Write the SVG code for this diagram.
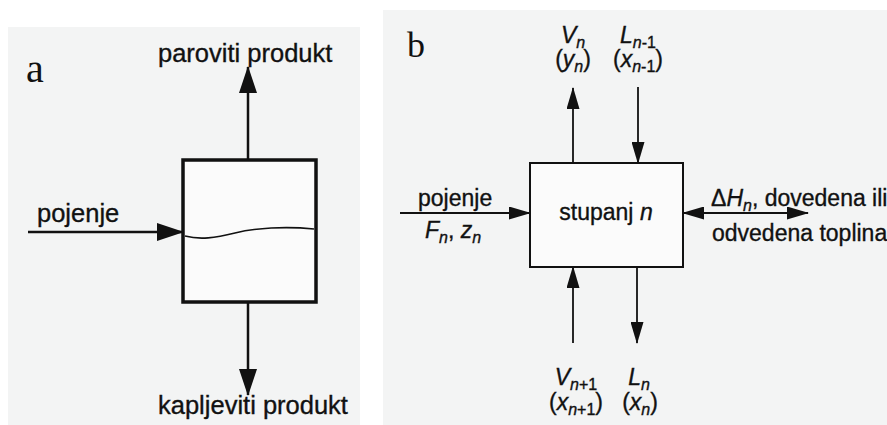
<svg xmlns="http://www.w3.org/2000/svg" width="887" height="425" viewBox="0 0 887 425">
  <style>
    .bg { fill: #f3f4f4; }
    .lbl { font-family: "Liberation Sans", Arial, sans-serif; fill: #111; stroke: #111; stroke-width: 0.35; }
    .l1 { font-size: 25.5px; }
    .l2 { font-size: 23px; }
    .sub { font-size: 16px; }
    .it { font-style: italic; }
    .tag { font-family: "Liberation Serif", "Times New Roman", serif; fill: #111; }
    .box1 { fill: #fbfbfb; stroke: #111; stroke-width: 3.5; }
    .box2 { fill: #fbfbfb; stroke: #111; stroke-width: 2; }
    .c1 { fill: none; stroke: #111; stroke-width: 2.5; }
    .c2 { fill: none; stroke: #111; stroke-width: 1.8; }
    .wave { fill: none; stroke: #111; stroke-width: 1.6; }
  </style>
  <defs>
    <marker id="ahBig" markerUnits="userSpaceOnUse" markerWidth="27" markerHeight="18" viewBox="0 0 27 18" refX="26" refY="9" orient="auto">
      <path d="M0,0 L27,9 L0,18 Z" fill="#111"/>
    </marker>
    <marker id="ahSmall" markerUnits="userSpaceOnUse" markerWidth="22" markerHeight="13" viewBox="0 0 22 13" refX="21" refY="6.5" orient="auto-start-reverse">
      <path d="M0,0 L22,6.5 L0,13 Z" fill="#111"/>
    </marker>
  </defs>

  <rect x="0" y="0" width="887" height="425" fill="#ffffff"/>
  <rect class="bg" x="8" y="27" width="352" height="398"/>
  <rect class="bg" x="383" y="10" width="504" height="415"/>

  <!-- Panel a -->
  <text id="tag-a" class="tag" x="26" y="82" font-size="40">a</text>

  <g id="connectors-a">
    <line class="c1" x1="248" y1="160" x2="248" y2="67" marker-end="url(#ahBig)"/>
    <line class="c1" x1="28" y1="232" x2="183" y2="232" marker-end="url(#ahBig)"/>
    <line class="c1" x1="248" y1="302" x2="248" y2="395" marker-end="url(#ahBig)"/>
  </g>

  <g id="node-vessel">
    <rect class="box1" x="183" y="160" width="133" height="142"/>
    <path class="wave" d="M185,236 C200,240 215,238 235,233 C255,228 285,226 314,229"/>
  </g>

  <g id="label-paroviti">
    <text class="lbl l1" x="158" y="62">paroviti produkt</text>
  </g>
  <g id="label-pojenje-a">
    <text class="lbl l1" x="37" y="222">pojenje</text>
  </g>
  <g id="label-kapljeviti">
    <text class="lbl l1" x="158" y="414">kapljeviti produkt</text>
  </g>

  <!-- Panel b -->
  <text id="tag-b" class="tag" x="407" y="57" font-size="36">b</text>

  <g id="connectors-b">
    <line class="c2" x1="573" y1="163" x2="573" y2="88" marker-end="url(#ahSmall)"/>
    <line class="c2" x1="638" y1="87" x2="638" y2="163" marker-end="url(#ahSmall)"/>
    <line class="c2" x1="400" y1="213" x2="530" y2="213" marker-end="url(#ahSmall)"/>
    <line class="c2" x1="683" y1="213" x2="808" y2="213" marker-start="url(#ahSmall)" marker-end="url(#ahSmall)"/>
    <line class="c2" x1="573" y1="343" x2="573" y2="267" marker-end="url(#ahSmall)"/>
    <line class="c2" x1="637" y1="267" x2="637" y2="343" marker-end="url(#ahSmall)"/>
  </g>

  <g id="node-stage">
    <rect class="box2" x="530" y="163" width="153" height="104"/>
    <text class="lbl l2" x="606" y="220" text-anchor="middle">stupanj <tspan class="it">n</tspan></text>
  </g>

  <g id="label-Vn">
    <text class="lbl l2" x="573" y="43" text-anchor="middle"><tspan class="it">V</tspan><tspan class="sub it" dy="5">n</tspan></text>
    <text class="lbl l2" x="573" y="67" text-anchor="middle">(<tspan class="it">y</tspan><tspan class="sub it" dy="5">n</tspan><tspan dy="-5">)</tspan></text>
  </g>
  <g id="label-Ln-1">
    <text class="lbl l2" x="638" y="43" text-anchor="middle"><tspan class="it">L</tspan><tspan class="sub it" dy="5">n</tspan><tspan class="sub">-1</tspan></text>
    <text class="lbl l2" x="638" y="67" text-anchor="middle">(<tspan class="it">x</tspan><tspan class="sub it" dy="5">n</tspan><tspan class="sub">-1</tspan><tspan dy="-5">)</tspan></text>
  </g>
  <g id="label-feed-b">
    <text class="lbl l2" x="418" y="206">pojenje</text>
    <text class="lbl l2" x="425" y="238"><tspan class="it">F</tspan><tspan class="sub it" dy="5">n</tspan><tspan dy="-5">, </tspan><tspan class="it">z</tspan><tspan class="sub it" dy="5">n</tspan></text>
  </g>
  <g id="label-heat">
    <text class="lbl l2" x="711" y="206">Δ<tspan class="it">H</tspan><tspan class="sub it" dy="5">n</tspan><tspan dy="-5">, dovedena ili</tspan></text>
    <text class="lbl l2" x="712" y="241">odvedena toplina</text>
  </g>
  <g id="label-Vn+1">
    <text class="lbl l2" x="576" y="385" text-anchor="middle"><tspan class="it">V</tspan><tspan class="sub it" dy="5">n</tspan><tspan class="sub">+1</tspan></text>
    <text class="lbl l2" x="576" y="410" text-anchor="middle">(<tspan class="it">x</tspan><tspan class="sub it" dy="5">n</tspan><tspan class="sub">+1</tspan><tspan dy="-5">)</tspan></text>
  </g>
  <g id="label-Ln">
    <text class="lbl l2" x="639" y="385" text-anchor="middle"><tspan class="it">L</tspan><tspan class="sub it" dy="5">n</tspan></text>
    <text class="lbl l2" x="640" y="410" text-anchor="middle">(<tspan class="it">x</tspan><tspan class="sub it" dy="5">n</tspan><tspan dy="-5">)</tspan></text>
  </g>
</svg>
